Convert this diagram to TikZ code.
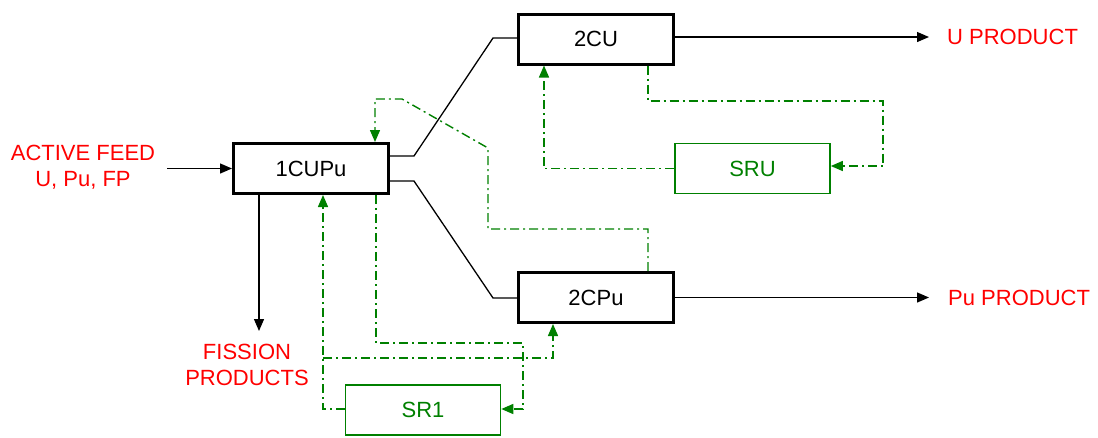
\documentclass[tikz,border=0pt]{standalone}
\usepackage{fontspec}
\setmainfont{Liberation Sans}
\usetikzlibrary{arrows.meta}
\definecolor{grn}{RGB}{0,128,0}
\definecolor{rd}{RGB}{255,0,0}
\begin{document}
\begin{tikzpicture}[x=1pt,y=-1pt,
  every node/.style={font=\fontsize{22}{26}\selectfont, inner sep=0pt},
  unit/.style={draw=black, line width=3pt, minimum width=155pt, minimum height=50pt, fill=white},
  recov/.style={draw=grn, line width=1.6pt, minimum width=155pt, minimum height=50pt, text=grn},
  lbl/.style={text=rd, align=center},
  flow/.style={draw=black, line width=1.3pt},
  flowarr/.style={flow, -{Triangle[length=12pt,width=10pt]}},
  gline/.style={draw=grn, line width=1.4pt, dash pattern=on 9pt off 4pt on 2pt off 4pt},
  garr/.style={gline, -{Triangle[length=12pt,width=10pt]}}
]
\useasboundingbox (0,0) rectangle (1098,437);

% nodes
\node[unit] (n1) at (311,168.5) {1CUPu};
\node[unit] (n2u) at (596,39) {2CU};
\node[unit] (n2p) at (596,297.5) {2CPu};
\node[recov] (sru) at (752.5,168.5) {SRU};
\node[recov] (sr1) at (423,410) {SR1};

\node[lbl] (feed) at (83,167) {ACTIVE FEED\\U, Pu, FP};
\node[lbl] (fiss) at (247,365) {FISSION\\PRODUCTS};
\node[lbl, anchor=west] (uprod) at (947,37) {U PRODUCT};
\node[lbl, anchor=west] (pprod) at (948,297.5) {Pu PRODUCT};

% coordinates
\coordinate (fin) at (167,168.5);
\coordinate (k1) at (414,156);
\coordinate (k2) at (493,38);
\coordinate (k3) at (414,181);
\coordinate (k4) at (493,298);
\coordinate (uo) at (929,37);
\coordinate (po) at (929,297.5);
\coordinate (fpx) at (259,331);

\coordinate (g1) at (544,168.5);
\coordinate (g2) at (648,101);
\coordinate (g3) at (883,101);
\coordinate (g4) at (883,166);
\coordinate (g5) at (648,229);
\coordinate (g6) at (488,229);
\coordinate (g7) at (488,148);
\coordinate (g8) at (402,99);
\coordinate (g9) at (375,99);
\coordinate (h1) at (376,343);
\coordinate (h2) at (523,343);
\coordinate (h3) at (523,409);
\coordinate (h4) at (323,409);
\coordinate (h5) at (323,358);
\coordinate (h6) at (553,358);

% black flows
\draw[flowarr] (fin) -- (n1.west);
\draw[flow] (n1.east |- k1) -- (k1) -- (k2) -- (n2u.west |- k2);
\draw[flow] (n1.east |- k3) -- (k3) -- (k4) -- (n2p.west |- k4);
\draw[flowarr] (n2u.east |- uo) -- (uo);
\draw[flowarr] (n2p.east |- po) -- (po);
\draw[flowarr] (n1.south -| fpx) -- (fpx);

% green recycle flows
\draw[garr] (sru.west) -- (g1) -- (n2u.south -| g1);
\draw[garr] (n2u.south -| g2) -- (g2) -- (g3) -- (g4) -- (sru.east |- g4);
\draw[garr] (n2p.north -| g5) -- (g5) -- (g6) -- (g7) -- (g8) -- (g9) -- (n1.north -| g9);
\draw[garr] (n1.south -| h1) -- (h1) -- (h2) -- (h3) -- (sr1.east |- h3);
\draw[garr] (sr1.west |- h4) -- (h4) -- (n1.south -| h4);
\draw[garr] (h5) -- (h6) -- (n2p.south -| h6);
\end{tikzpicture}
\end{document}
